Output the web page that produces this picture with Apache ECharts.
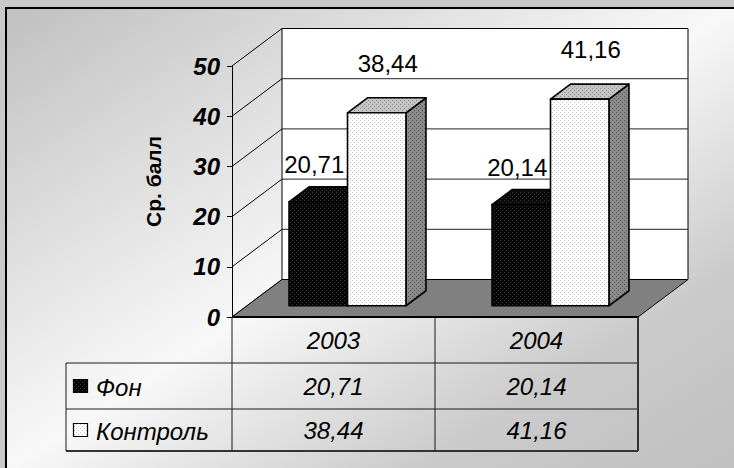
<!DOCTYPE html>
<html>
<head>
<meta charset="utf-8">
<script src="https://cdn.jsdelivr.net/npm/echarts@6/dist/echarts.min.js"></script>
<style>
  html, body { margin: 0; padding: 0; background: #c9c9c9; overflow: hidden; }
  #chart { width: 734px; height: 468px; }
</style>
</head>
<body>
<div id="chart"></div>
<script>
// ---- data ----
const years = ['2003', '2004'];
const seriesNames = ['Фон', 'Контроль'];
const fonValues = [20.71, 20.14];
const controlValues = [38.44, 41.16];
const yTicks = [0, 10, 20, 30, 40, 50];

// ---- look ----
const FONT = 'Arial, "Liberation Sans", sans-serif';
const DEPTH_X = 50, DEPTH_Y = -37.5;   // oblique depth of the plot box
const BAR_FRONT = 0.3, BAR_BACK = 0.7;  // bar slab inside the depth
const BAR_FRAC = 0.288;                 // bar width as share of a category band

function fmt(v) { return v.toFixed(2).replace('.', ','); }

function dots(base, dot) {
  const c = document.createElement('canvas');
  c.width = 4; c.height = 4;
  const g = c.getContext('2d');
  g.fillStyle = base; g.fillRect(0, 0, 4, 4);
  g.fillStyle = dot; g.fillRect(0, 0, 1, 1); g.fillRect(2, 2, 1, 1);
  return { image: c, repeat: 'repeat', imageWidth: 4, imageHeight: 4 };
}

const fills = [
  { front: dots('#050505', '#3a3a3a'), top: dots('#0a0a0a', '#3a3a3a'), side: dots('#0a0a0a', '#3a3a3a') },
  { front: dots('#ffffff', '#bdbdbd'), top: dots('#c4c4c4', '#8a8a8a'), side: dots('#8a8a8a', '#555555') }
];
// label shift relative to the bar's rear top edge
const labelShift = [[-4, -22], [11, -34.5]];

function barRender(sideIdx) {
  return function (params, api) {
    const idx = api.value(0), val = api.value(1);
    const base = api.coord([idx, 0]);
    const top = api.coord([idx, val]);
    const band = api.size([1, 0])[0];
    const w = band * BAR_FRAC;
    const fx = DEPTH_X * BAR_FRONT, fy = DEPTH_Y * BAR_FRONT;
    const dx = DEPTH_X * (BAR_BACK - BAR_FRONT), dy = DEPTH_Y * (BAR_BACK - BAR_FRONT);
    const x0 = base[0] + (sideIdx === 0 ? -w : 0) + fx - 1;
    const x1 = x0 + w;
    const yb = base[1] + fy, yt = top[1] + fy;
    const f = fills[sideIdx];
    const edge = { stroke: '#000', lineWidth: 1.6, lineJoin: 'round' };
    return {
      type: 'group',
      children: [
        { type: 'polygon', shape: { points: [[x1, yt], [x1 + dx, yt + dy], [x1 + dx, yb + dy], [x1, yb]] },
          style: Object.assign({ fill: f.side }, edge) },
        { type: 'polygon', shape: { points: [[x0, yt], [x0 + dx, yt + dy], [x1 + dx, yt + dy], [x1, yt]] },
          style: Object.assign({ fill: f.top }, edge) },
        { type: 'polygon', shape: { points: [[x0, yt], [x1, yt], [x1, yb], [x0, yb]] },
          style: Object.assign({ fill: f.front }, edge) },
        { type: 'text', z2: 100,
          style: { text: fmt(val), x: x0 + w / 2 + labelShift[sideIdx][0], y: yt + dy + labelShift[sideIdx][1],
                   align: 'center', verticalAlign: 'middle', font: '24px ' + FONT, fill: '#000' } }
      ]
    };
  };
}

// walls, floor and the data table under the plot
function frameRender(params, api) {
  const cs = params.coordSys;
  const L = cs.x, R = cs.x + cs.width;
  const band = api.size([1, 0])[0];
  const y0 = api.coord([0, 0])[1];
  const yMax = api.coord([0, yTicks[yTicks.length - 1]])[1];
  const DX = DEPTH_X, DY = DEPTH_Y;
  const ch = [];
  ch.push({ type: 'polygon', shape: { points: [[L + DX, yMax + DY], [R + DX, yMax + DY], [R + DX, y0 + DY], [L + DX, y0 + DY]] },
            style: { fill: '#ffffff', stroke: '#000', lineWidth: 1 } });
  yTicks.forEach(function (t) {
    const y = api.coord([0, t])[1];
    if (t > 0 && t < yTicks[yTicks.length - 1]) {
      ch.push({ type: 'line', shape: { x1: L + DX, y1: y + DY, x2: R + DX, y2: y + DY },
                style: { stroke: '#222', lineWidth: 1 } });
    }
    ch.push({ type: 'line', shape: { x1: L, y1: y, x2: L + DX, y2: y + DY },
              style: { stroke: '#000', lineWidth: 1 } });
  });
  // floor
  ch.push({ type: 'polygon', shape: { points: [[L, y0], [L + DX, y0 + DY], [R + DX, y0 + DY], [R, y0]] },
            style: { fill: '#808080', stroke: '#000', lineWidth: 1 } });
  ch.push({ type: 'line', shape: { x1: L, y1: y0, x2: R, y2: y0 }, style: { stroke: '#000', lineWidth: 2.2 } });

  // data table
  const rowH = [46, 46, 42];
  const tLeft = L - 166;
  const r1 = y0 + rowH[0], r2 = r1 + rowH[1], r3 = r2 + rowH[2];
  const grid = { stroke: '#1a1a1a', lineWidth: 1 };
  ch.push({ type: 'line', shape: { x1: tLeft, y1: r1, x2: R, y2: r1 }, style: grid });
  ch.push({ type: 'line', shape: { x1: tLeft, y1: r2, x2: R, y2: r2 }, style: grid });
  ch.push({ type: 'line', shape: { x1: tLeft, y1: r3, x2: R, y2: r3 }, style: { stroke: '#333', lineWidth: 2 } });
  ch.push({ type: 'line', shape: { x1: tLeft, y1: r1, x2: tLeft, y2: r3 }, style: grid });
  for (let i = 0; i <= years.length; i++) {
    const x = L + band * i;
    ch.push({ type: 'line', shape: { x1: x, y1: y0, x2: x, y2: r3 },
              style: i === years.length ? { stroke: '#333', lineWidth: 2 } : grid });
  }
  const cellFont = 'italic 24px ' + FONT;
  const rowsY = [y0 + rowH[0] / 2, r1 + rowH[1] / 2, r2 + rowH[2] / 2];
  const rows = [fonValues, controlValues];
  years.forEach(function (yr, i) {
    const cx = api.coord([i, 0])[0];
    ch.push({ type: 'text', style: { text: yr, x: cx, y: rowsY[0], align: 'center', verticalAlign: 'middle', font: cellFont, fill: '#000' } });
    rows.forEach(function (vals, k) {
      ch.push({ type: 'text', style: { text: fmt(vals[i]), x: cx, y: rowsY[k + 1], align: 'center', verticalAlign: 'middle', font: cellFont, fill: '#000' } });
    });
  });
  seriesNames.forEach(function (name, k) {
    const yc = rowsY[k + 1];
    ch.push({ type: 'rect', shape: { x: tLeft + 7.5, y: yc - 6.5, width: 14, height: 13 },
              style: { fill: fills[k].front, stroke: '#000', lineWidth: 1.2 } });
    ch.push({ type: 'text', style: { text: name, x: tLeft + 30, y: yc + 1, align: 'left', verticalAlign: 'middle', font: cellFont, fill: '#000' } });
  });
  return { type: 'group', children: ch };
}

// diagonal shading: gray corners top-left / bottom-right, light band along the other diagonal
const BG_X = 6, BG_Y = 8, BG_W = 728, BG_H = 460;
const bgK = 2 * BG_W * BG_H / (BG_W * BG_W + BG_H * BG_H);
const bgFill = new echarts.graphic.LinearGradient(
  BG_X, BG_Y, BG_X + bgK * BG_H, BG_Y + bgK * BG_W, [
    { offset: 0, color: '#c0c0c0' },
    { offset: 0.5, color: '#f8f8f8' },
    { offset: 0.78, color: '#cbcbcb' },
    { offset: 1, color: '#c0c0c0' }
  ], true);

const chart = echarts.init(document.getElementById('chart'), null, { renderer: 'svg' });
chart.setOption({
  backgroundColor: 'transparent',
  animation: false,
  graphic: [{
    type: 'rect', z: -10, silent: true,
    shape: { x: BG_X, y: BG_Y, width: BG_W, height: BG_H },
    style: { fill: bgFill }
  }, {
    type: 'polyline', z: -9, silent: true,
    shape: { points: [[BG_X, BG_Y + BG_H], [BG_X, BG_Y], [BG_X + BG_W, BG_Y]] },
    style: { stroke: '#000', lineWidth: 2, fill: null }
  }],
  grid: { left: 232, top: 66, width: 406, height: 251 },
  xAxis: { type: 'category', data: years, show: false },
  yAxis: {
    type: 'value', min: 0, max: 50, interval: 10,
    name: 'Ср. балл', nameLocation: 'middle', nameRotate: 90, nameGap: 68,
    nameTextStyle: { fontFamily: FONT, fontWeight: 'bold', fontSize: 21, color: '#000', padding: [0, 0, 0, 20] },
    axisLine: { show: true, lineStyle: { color: '#000', width: 1 } },
    axisTick: { show: true, length: 5, lineStyle: { color: '#000' } },
    axisLabel: { margin: 12, fontFamily: FONT, fontWeight: 'bold', fontStyle: 'italic', fontSize: 24, color: '#000' },
    splitLine: { show: false }
  },
  series: [
    { type: 'custom', name: 'frame', z: 1, silent: true, renderItem: frameRender, data: [[0, 0]] },
    { type: 'custom', name: seriesNames[0], z: 2, renderItem: barRender(0),
      data: fonValues.map(function (v, i) { return [i, v]; }) },
    { type: 'custom', name: seriesNames[1], z: 3, renderItem: barRender(1),
      data: controlValues.map(function (v, i) { return [i, v]; }) }
  ]
});
</script>
</body>
</html>
